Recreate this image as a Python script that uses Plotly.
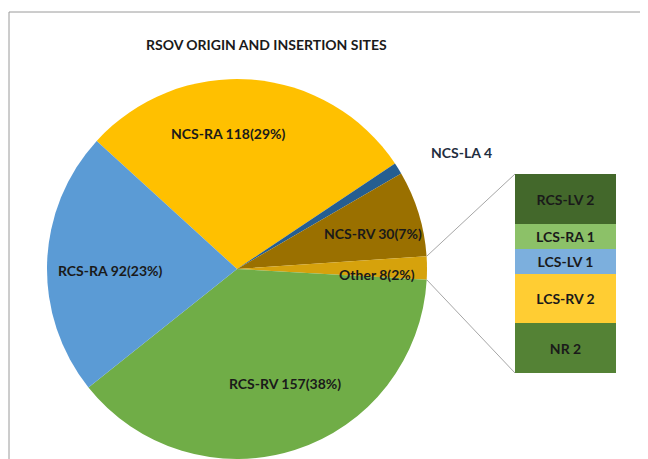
import math
import plotly.graph_objects as go

# ---- data ----
pie_labels = ["NCS-RA", "NCS-LA", "NCS-RV", "Other", "RCS-RV", "RCS-RA"]
pie_values = [118, 4, 30, 8, 157, 92]
pie_pcts = [29, None, 7, 2, 38, 23]
pie_colors = ["#FFC000", "#255E91", "#9A7000", "#D6A20C", "#70AD47", "#5B9BD5"]

bar_labels = ["RCS-LV", "LCS-RA", "LCS-LV", "LCS-RV", "NR"]   # top to bottom
bar_values = [2, 1, 1, 2, 2]
bar_colors = ["#43682B", "#8CC168", "#7CAFDD", "#FFCD33", "#548235"]

title_text = "RSOV ORIGIN AND INSERTION SITES"

# ---- layout geometry (window pixels) ----
W, H = 648, 459
OFF = 8          # page body margin: figure is drawn 8px in from the window corner
cx, cy, R = 237, 269, 190
rotation = -47.6
FONT = "Lato"
TXT = "#1a1a1a"

def px2paper(x, y):
    return (x - OFF) / W, (H - (y - OFF)) / H

fig = go.Figure()

dx0, dy1 = px2paper(cx - R, cy - R)
dx1, dy0 = px2paper(cx + R, cy + R)
fig.add_trace(go.Pie(
    labels=pie_labels, values=pie_values, sort=False, direction="clockwise",
    rotation=rotation, marker=dict(colors=pie_colors, line=dict(width=0)),
    textinfo="none", hoverinfo="label+value", showlegend=False,
    domain=dict(x=[dx0, dx1], y=[dy0, dy1]),
))

# stacked bar (bottom first)
bx0, by1 = px2paper(515, 174)
bx1, by0 = px2paper(616, 373)
bar_dom_x = [bx0, bx1]
bar_dom_y = [by0, by1]
for lab, val, col in reversed(list(zip(bar_labels, bar_values, bar_colors))):
    fig.add_trace(go.Bar(
        x=[0], y=[val], marker=dict(color=col, line=dict(width=0)),
        text=[f"{lab} {val}"], textposition="inside", insidetextanchor="middle",
        textfont=dict(family=FONT, size=14, color=TXT, weight="bold"),
        showlegend=False, xaxis="x", yaxis="y", hoverinfo="text",
    ))

# connector lines from the "Other" slice to the bar
total = sum(pie_values)
oi = pie_labels.index("Other")
a0 = rotation + 360 * sum(pie_values[:oi]) / total
a1 = a0 + 360 * pie_values[oi] / total
def edge(a):
    r = math.radians(a)
    return cx + R * math.sin(r), cy - R * math.cos(r)
p0 = px2paper(*edge(a0))
p1 = px2paper(*edge(a1))
bl, bt = px2paper(9, 12)
shapes = [
    dict(type="line", xref="paper", yref="paper", x0=p0[0], y0=p0[1],
         x1=bar_dom_x[0], y1=bar_dom_y[1], line=dict(color="#A6A6A6", width=1)),
    dict(type="line", xref="paper", yref="paper", x0=p1[0], y0=p1[1],
         x1=bar_dom_x[0], y1=bar_dom_y[0], line=dict(color="#A6A6A6", width=1)),
    dict(type="rect", xref="paper", yref="paper", x0=bl, x1=1.1,
         y0=-0.1, y1=bt, line=dict(color="#9a9a9a", width=1), layer="below"),
]

# pie labels
label_pos = [(228, 133), (461, 152), (373, 233), (377, 274), (285, 383), (110, 270)]
annotations = []
for lab, val, pct, (lx, ly) in zip(pie_labels, pie_values, pie_pcts, label_pos):
    t = f"{lab} {val}" + (f"({pct}%)" if pct is not None else "")
    xp, yp = px2paper(lx, ly)
    color = "#1F2E40" if pct is None else TXT
    annotations.append(dict(text=t, x=xp, y=yp, xref="paper", yref="paper",
                            showarrow=False, xanchor="center", yanchor="middle",
                            font=dict(family=FONT, size=14, color=color, weight="bold")))
tx, ty = px2paper(266, 45)
annotations.append(dict(text=title_text, x=tx, y=ty, xref="paper", yref="paper",
                        showarrow=False, xanchor="center", yanchor="middle",
                        font=dict(family=FONT, size=14, color=TXT, weight="bold")))

fig.update_layout(
    width=W, height=H, margin=dict(l=0, r=0, t=0, b=0),
    paper_bgcolor="white", plot_bgcolor="rgba(0,0,0,0)",
    barmode="stack", bargap=0,
    xaxis=dict(domain=bar_dom_x, range=[-0.5, 0.5], visible=False, fixedrange=True),
    yaxis=dict(domain=bar_dom_y, range=[0, sum(bar_values)], visible=False, fixedrange=True),
    shapes=shapes, annotations=annotations,
    font=dict(family=FONT), uniformtext=dict(minsize=10),
)

fig.write_html("out.html")
